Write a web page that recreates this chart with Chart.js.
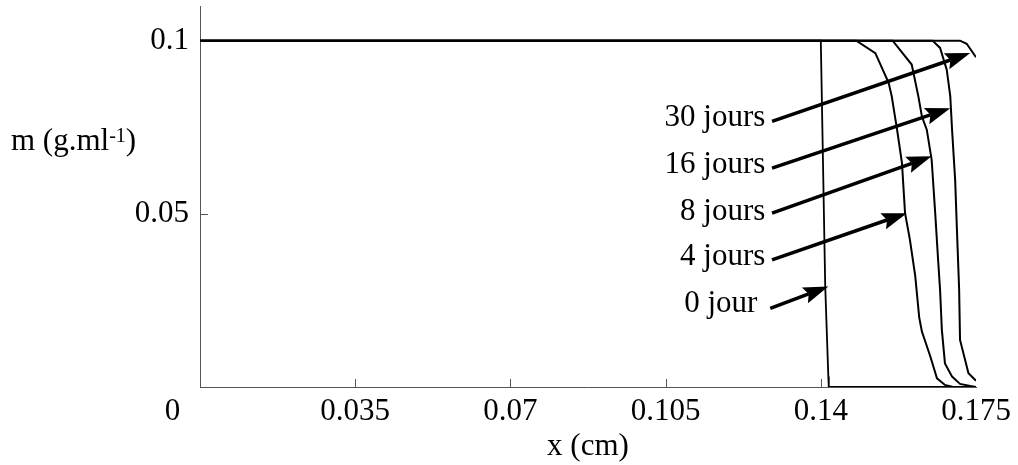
<!DOCTYPE html>
<html><head><meta charset="utf-8">
<script src="https://cdn.jsdelivr.net/npm/chart.js@4/dist/chart.umd.min.js"></script>
<style>html,body{margin:0;padding:0;background:#fff}#wrap{width:1018px;height:465px}</style>
</head><body><div id="wrap"><canvas id="c" width="1018" height="465"></canvas></div>
<script>
// ---- tick values / labels ----
const xTicks = [0, 0.035, 0.07, 0.105, 0.14, 0.175];
const xTickLabels = ['0', '0.035', '0.07', '0.105', '0.14', '0.175'];
const yTicks = [0, 0.05, 0.1];
const yTickLabels = ['0', '0.05', '0.1'];
const xMarks = [0.035, 0.07, 0.105, 0.14];
const yMarks = [0.05, 0.1];

// ---- series (x in cm, m in g/ml) ----
const x0j = [0, 0.1400, 0.1410, 0.1417, 0.1418, 0.175];
const y0j = [0.1, 0.1, 0.029, 0.003, 0, 0];

const x4j = [0, 0.1480, 0.1523, 0.1553, 0.1560, 0.1572, 0.1583, 0.1590, 0.1601, 0.1613, 0.1622, 0.1628, 0.1647, 0.1662, 0.1680, 0.1698, 0.175];
const y4j = [0.1, 0.1, 0.0964, 0.0878, 0.0839, 0.0743, 0.0647, 0.0502, 0.0425, 0.0320, 0.0200, 0.0160, 0.0088, 0.0025, 0.0006, 0, 0];

const x8j = [0, 0.1562, 0.1605, 0.1620, 0.1628, 0.1639, 0.1650, 0.1658, 0.1665, 0.1669, 0.1673, 0.1680, 0.1696, 0.1714, 0.1737, 0.175];
const y8j = [0.1, 0.1, 0.0931, 0.0839, 0.0781, 0.0743, 0.0656, 0.0502, 0.0358, 0.0280, 0.0165, 0.0068, 0.0030, 0.0009, 0.0003, 0];

const x16j = [0, 0.1652, 0.1669, 0.1684, 0.1692, 0.1696, 0.1703, 0.1707, 0.1712, 0.1714, 0.1733, 0.175];
const y16j = [0.1, 0.1, 0.0979, 0.0916, 0.0839, 0.0743, 0.0598, 0.0454, 0.0280, 0.0136, 0.0040, 0.0018];

const x30j = [0, 0.1714, 0.1729, 0.175];
const y30j = [0.1, 0.1, 0.0991, 0.0952];

// ---- annotations (data coords) ----
const annLabels = ['30 jours', '16 jours', '8 jours', '4 jours', '0 jour'];
const annTextX = [0.1275, 0.1275, 0.1275, 0.1275, 0.1257];
const annTextY = [0.0754, 0.0618, 0.0483, 0.0353, 0.0217];
const arrFromX = [0.1290, 0.1290, 0.1290, 0.1290, 0.1286];
const arrFromY = [0.0767, 0.0632, 0.0502, 0.0367, 0.0227];
const arrToX = [0.1737, 0.1692, 0.1650, 0.1594, 0.1417];
const arrToY = [0.0964, 0.0805, 0.0666, 0.0502, 0.0290];

const FONT = '"Liberation Serif", "Times New Roman", serif';

function pts(xs, ys) { return xs.map((v, i) => ({x: v, y: ys[i]})); }
const series = [[x0j, y0j], [x4j, y4j], [x8j, y8j], [x16j, y16j], [x30j, y30j]];
const names = ['0 jour', '4 jours', '8 jours', '16 jours', '30 jours'];

function drawArrow(ctx, x1, y1, x2, y2) {
  const a = Math.atan2(y2 - y1, x2 - x1), L = 25, W = 8.5, N = 4;
  const c = Math.cos(a), s = Math.sin(a);
  const bx = x2 - L * c, by = y2 - L * s;
  ctx.lineWidth = 3.6; ctx.lineCap = 'butt';
  ctx.beginPath(); ctx.moveTo(x1, y1); ctx.lineTo(bx + N * c, by + N * s); ctx.stroke();
  ctx.beginPath();
  ctx.moveTo(x2, y2);
  ctx.lineTo(bx - W * s, by + W * c);
  ctx.lineTo(bx + N * c, by + N * s);
  ctx.lineTo(bx + W * s, by - W * c);
  ctx.closePath(); ctx.fill();
}

const annot = {
  id: 'annot',
  beforeDatasetsDraw(chart) {
    const {ctx, scales: {x, y}} = chart;
    ctx.save();
    ctx.strokeStyle = '#555'; ctx.lineWidth = 1;
    xMarks.forEach(v => {
      const px = Math.round(x.getPixelForValue(v)) + 0.5;
      ctx.beginPath(); ctx.moveTo(px, y.bottom); ctx.lineTo(px, y.bottom - 8); ctx.stroke();
    });
    yMarks.forEach(v => {
      const py = Math.round(y.getPixelForValue(v)) + 0.5;
      ctx.beginPath(); ctx.moveTo(x.left, py); ctx.lineTo(x.left + 8, py); ctx.stroke();
    });
    ctx.restore();
  },
  afterDatasetsDraw(chart) {
    const {ctx, scales: {x, y}} = chart;
    ctx.save();
    ctx.fillStyle = '#000'; ctx.strokeStyle = '#000';
    for (let i = 0; i < annLabels.length; i++) {
      drawArrow(ctx, x.getPixelForValue(arrFromX[i]), y.getPixelForValue(arrFromY[i]),
                x.getPixelForValue(arrToX[i]), y.getPixelForValue(arrToY[i]));
      ctx.font = '31px ' + FONT;
      ctx.textAlign = 'right'; ctx.textBaseline = 'alphabetic';
      ctx.fillText(annLabels[i], x.getPixelForValue(annTextX[i]), y.getPixelForValue(annTextY[i]));
    }
    // origin label
    ctx.font = '31px ' + FONT;
    ctx.textAlign = 'center'; ctx.textBaseline = 'alphabetic';
    ctx.fillText(xTickLabels[0], x.left - 27.5, y.bottom + 33);
    // y title (horizontal)
    ctx.textAlign = 'left';
    let tx = 11, ty = 150;
    const p1 = 'm (g.ml';
    ctx.fillText(p1, tx, ty); tx += ctx.measureText(p1).width;
    ctx.font = '20px ' + FONT;
    ctx.fillText('-1', tx, ty - 8); tx += ctx.measureText('-1').width;
    ctx.font = '31px ' + FONT;
    ctx.fillText(')', tx, ty);
    ctx.restore();
  }
};

new Chart(document.getElementById('c'), {
  type: 'scatter',
  data: {
    datasets: series.map((s, i) => ({
      label: names[i],
      data: pts(s[0], s[1]),
      showLine: true,
      borderColor: '#000',
      backgroundColor: '#000',
      borderWidth: i === 0 ? 1.8 : 2,
      pointRadius: 0,
      tension: 0
    }))
  },
  options: {
    responsive: false,
    animation: false,
    devicePixelRatio: 1,
    layout: {padding: {left: 0, top: 6, right: 42, bottom: 0}},
    plugins: {legend: {display: false}, tooltip: {enabled: false}},
    scales: {
      x: {
        type: 'linear', min: 0, max: 0.175,
        afterBuildTicks: s => { s.ticks = xTicks.map(v => ({value: v})); },
        afterFit: s => { s.height = 78; s.paddingLeft = 0; s.paddingRight = 0; },
        grid: {display: false, drawTicks: false, tickLength: 0},
        border: {display: true, color: '#555', width: 1},
        ticks: {
          padding: 6, color: '#000', maxRotation: 0, autoSkip: false,
          font: {family: FONT, size: 31},
          callback: (v, i) => i === 0 ? '' : xTickLabels[i]
        },
        title: {display: true, text: 'x (cm)', color: '#000', font: {family: FONT, size: 31}, padding: {top: 0, bottom: 0}}
      },
      y: {
        type: 'linear', min: 0, max: 0.11,
        afterBuildTicks: s => { s.ticks = yTicks.map(v => ({value: v})); },
        afterFit: s => { s.width = 200; s.paddingTop = 0; s.paddingBottom = 0; },
        grid: {display: false, drawTicks: false, tickLength: 0},
        border: {display: true, color: '#555', width: 1},
        ticks: {
          padding: 11, color: '#000', autoSkip: false,
          font: {family: FONT, size: 31},
          callback: (v, i) => i === 0 ? '' : yTickLabels[i]
        }
      }
    }
  },
  plugins: [annot]
});
</script>
</body></html>
